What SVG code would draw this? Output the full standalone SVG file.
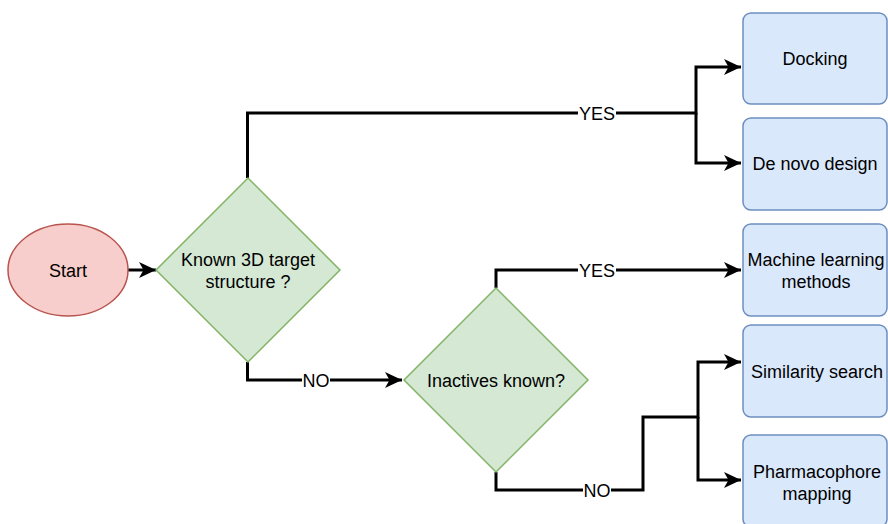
<svg xmlns="http://www.w3.org/2000/svg" width="888" height="524" viewBox="0 0 888 524">
  <style>
    text { font-family: "Liberation Sans", Arial, sans-serif; font-size: 18px; fill: #000; text-anchor: middle; }
    .start { fill: #f8cecc; stroke: #b85450; stroke-width: 1.5; }
    .decision { fill: #d5e8d4; stroke: #82b366; stroke-width: 1.5; }
    .method { fill: #dae8fc; stroke: #6c8ebf; stroke-width: 1.5; }
    .edge { fill: none; stroke: #000; stroke-width: 3; stroke-linejoin: miter; }
    .arrow { marker-end: url(#head); }
    .lbl-bg { fill: #fff; }
  </style>
  <defs>
    <marker id="head" markerUnits="userSpaceOnUse" markerWidth="18" markerHeight="16" refX="17" refY="8" orient="auto">
      <path d="M0,0 L17,8 L0,16 L4.5,8 Z" fill="#000"/>
    </marker>
  </defs>

  <rect width="888" height="524" fill="#fff"/>

  <!-- connectors -->
  <g id="connectors">
    <path class="edge arrow" d="M128,270 H156"/>
    <path class="edge arrow" d="M247.5,178 V113 H696 V67 H741"/>
    <path class="edge arrow" d="M696,113 V163 H741"/>
    <path class="edge arrow" d="M247.5,362 V380 H402"/>
    <path class="edge arrow" d="M496,288 V270 H741"/>
    <path class="edge arrow" d="M496,472 V490 H643 V417 H698 V362 H741"/>
    <path class="edge arrow" d="M698,417 V480 H741"/>

    <g id="label-yes-1">
      <rect class="lbl-bg" x="578" y="103" width="38" height="20"/>
      <text x="597" y="119.5">YES</text>
    </g>
    <g id="label-no-1">
      <rect class="lbl-bg" x="302" y="370" width="28" height="20"/>
      <text x="316" y="386.5">NO</text>
    </g>
    <g id="label-yes-2">
      <rect class="lbl-bg" x="578" y="260" width="38" height="20"/>
      <text x="597" y="276.5">YES</text>
    </g>
    <g id="label-no-2">
      <rect class="lbl-bg" x="583" y="480" width="28" height="20"/>
      <text x="597" y="496.5">NO</text>
    </g>
  </g>

  <g id="start">
    <ellipse class="start" cx="68" cy="270" rx="60" ry="46"/>
    <text x="68" y="276.5">Start</text>
  </g>

  <g id="known-3d">
    <polygon class="decision" points="248,178 340,270 248,362 156,270"/>
    <text x="248" y="266">Known 3D target</text>
    <text x="248" y="288">structure ?</text>
  </g>

  <g id="inactives">
    <polygon class="decision" points="496,288 588,380 496,472 404,380"/>
    <text x="496" y="387">Inactives known?</text>
  </g>

  <g id="docking">
    <rect class="method" x="743" y="13" width="144" height="91" rx="8"/>
    <text x="815" y="64.5">Docking</text>
  </g>

  <g id="de-novo">
    <rect class="method" x="743" y="118" width="144" height="92" rx="8"/>
    <text x="815" y="170">De novo design</text>
  </g>

  <g id="machine-learning">
    <rect class="method" x="743" y="224" width="144" height="92" rx="8"/>
    <text x="816" y="265.5">Machine learning</text>
    <text x="816" y="287.5">methods</text>
  </g>

  <g id="similarity">
    <rect class="method" x="743" y="325" width="144" height="92" rx="8"/>
    <text x="817" y="377.5">Similarity search</text>
  </g>

  <g id="pharmacophore">
    <rect class="method" x="743" y="435" width="144" height="92" rx="8"/>
    <text x="817" y="477.5">Pharmacophore</text>
    <text x="817" y="499.5">mapping</text>
  </g>
</svg>
